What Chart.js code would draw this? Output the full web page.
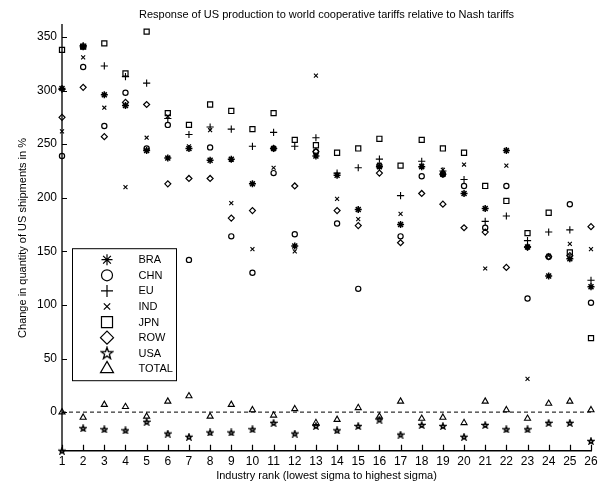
<!DOCTYPE html>
<html lang="en">
<head>
    <meta charset="UTF-8">
    <title>Response of US production to world cooperative tariffs</title>
    <script src="https://cdn.jsdelivr.net/npm/chart.js"></script>
    <style>
        body { margin: 0; background: #fff; }
        canvas { display: block; }
    </style>
</head>
<body>
    <canvas id="chart" width="604" height="487"></canvas>
    <script>
        // industry rank 1..26 and tick values
        const ranks = [1, 2, 3, 4, 5, 6, 7, 8, 9, 10, 11, 12, 13, 14, 15, 16, 17, 18, 19, 20, 21, 22, 23, 24, 25, 26];
        const yTicks = [0, 50, 100, 150, 200, 250, 300, 350];

        const BRA = [302, 341, 296, 286, 244, 237, 246, 235, 236, 213, 246, 155, 239, 221, 189, 229, 175, 229, 222, 204, 190, 244, 154, 127, 143, 117];
        const CHN = [239, 322, 267, 298, 246, 268, 142, 247, 164, 130, 223, 166, 243, 176, 115, 230, 164, 220, 222, 211, 172, 211, 106, 145, 194, 102];
        const EU = [301, 342, 323, 313, 307, 274, 259, 266, 264, 248, 261, 248, 256, 223, 228, 236, 202, 234, 225, 217, 178, 183, 160, 168, 170, 123];
        const IND = [262, 331, 284, 210, 256, 276, 248, 263, 195, 152, 228, 150, 314, 199, 180, 231, 185, 230, 226, 231, 134, 230, 31, 146, 157, 152];
        const JPN = [338, 341, 344, 316, 355, 279, 268, 287, 281, 264, 279, 254, 249, 242, 246, 255, 230, 254, 246, 242, 211, 197, 167, 186, 149, 69];
        const ROW = [275, 303, 257, 289, 287, 213, 218, 218, 181, 188, 246, 211, 243, 188, 174, 223, 158, 204, 194, 172, 168, 135, 154, 145, 146, 173];
        const USA = [-36, -15, -16, -17, -9, -20, -23, -19, -19, -16, -10, -20, -13, -17, -13, -7, -21, -12, -13, -23, -12, -16, -16, -10, -10, -27];
        const TOTAL = [0, -5, 7, 5, -4, 10, 15, -4, 7, 2, -3, 3, -10, -7, 4, -4, 10, -6, -5, -10, 10, 2, -6, 8, 10, 2];

        // pentagram marker (outline), like matlab 'p'
        function pentagram(size, lw) {
            const c = document.createElement('canvas');
            c.width = size; c.height = size;
            const g = c.getContext('2d');
            const cx = size / 2, cy = size / 2 + 0.3;
            const R = size / 2 - lw / 2 - 0.2, r = R * 0.4;
            g.beginPath();
            for (let i = 0; i < 10; i++) {
                const a = -Math.PI / 2 + i * Math.PI / 5;
                const rr = i % 2 ? r : R;
                const px = cx + rr * Math.cos(a), py = cy + rr * Math.sin(a);
                if (i === 0) g.moveTo(px, py); else g.lineTo(px, py);
            }
            g.closePath();
            g.lineWidth = lw;
            g.strokeStyle = '#000';
            g.stroke();
            return c;
        }
        const starSmall = pentagram(8, 1.4);
        const starBig = pentagram(14, 1.3);

        const series = [
            { label: 'BRA', data: BRA, style: 'star', r: 3.5, w: 1.5, lr: 5.5 },
            { label: 'CHN', data: CHN, style: 'circle', r: 2.6, w: 1.2, lr: 5.5 },
            { label: 'EU', data: EU, style: 'cross', r: 3.6, w: 1.1, lr: 6 },
            { label: 'IND', data: IND, style: 'crossRot', r: 2.8, w: 1.1, lr: 4.5 },
            { label: 'JPN', data: JPN, style: 'rect', r: 3.6, w: 1.2, lr: 7.8 },
            { label: 'ROW', data: ROW, style: 'rectRot', r: 3, w: 1.2, lr: 6.5 },
            { label: 'USA', data: USA, style: starSmall, r: 4, w: 1, lr: 6, legendImg: starBig },
            { label: 'TOTAL', data: TOTAL, style: 'triangle', r: 3.5, w: 1.1, lr: 7.5 }
        ];

        const datasets = series.map(s => ({
            label: s.label,
            data: ranks.map((x, i) => ({ x: x, y: s.data[i] })),
            pointStyle: s.style,
            pointRadius: s.r,
            pointBorderWidth: s.w,
            pointBorderColor: '#000',
            pointBackgroundColor: 'rgba(0,0,0,0)',
            showLine: false,
            clip: false
        }));

        // dashed zero line
        datasets.push({
            label: 'zero',
            data: [{ x: ranks[0], y: 0 }, { x: ranks[ranks.length - 1], y: 0 }],
            showLine: true,
            borderColor: '#000',
            borderWidth: 1,
            borderDash: [4, 3],
            pointRadius: 0,
            clip: false
        });

        // ticks point inward (matlab style)
        const innerTicks = {
            id: 'innerTicks',
            afterDraw(chart) {
                const { ctx, chartArea, scales } = chart;
                ctx.save();
                ctx.strokeStyle = '#000';
                ctx.lineWidth = 1.2;
                ctx.beginPath();
                scales.x.ticks.forEach(t => {
                    const px = Math.round(scales.x.getPixelForValue(t.value)) + 0.5;
                    ctx.moveTo(px, chartArea.bottom);
                    ctx.lineTo(px, chartArea.bottom - 6);
                });
                scales.y.ticks.forEach(t => {
                    const py = Math.round(scales.y.getPixelForValue(t.value)) + 0.5;
                    ctx.moveTo(chartArea.left, py);
                    ctx.lineTo(chartArea.left + 5, py);
                });
                ctx.stroke();
                ctx.restore();
            }
        };

        // legend box drawn inside the plot
        const boxLegend = {
            id: 'boxLegend',
            afterDraw(chart) {
                const { ctx, chartArea } = chart;
                const left = chartArea.left + 10.5, top = chartArea.top + 223.5;
                const w = 104, h = 132, step = 15.6;
                ctx.save();
                ctx.fillStyle = '#fff';
                ctx.fillRect(left, top, w, h);
                ctx.strokeStyle = '#000';
                ctx.lineWidth = 1;
                ctx.strokeRect(left, top, w, h);
                ctx.font = '11px "Liberation Sans", Arial, sans-serif';
                ctx.textBaseline = 'middle';
                series.forEach((s, i) => {
                    const y = top + 11 + i * step;
                    const mx = left + 34.5;
                    ctx.strokeStyle = '#000';
                    ctx.fillStyle = 'rgba(0,0,0,0)';
                    ctx.lineWidth = 1.2;
                    Chart.helpers.drawPoint(ctx, {
                        pointStyle: s.legendImg || s.style,
                        radius: s.lr,
                        rotation: 0,
                        borderWidth: 1.2
                    }, mx, y);
                    ctx.fillStyle = '#000';
                    ctx.fillText(s.label, left + 66, y + 0.5);
                });
                ctx.restore();
            }
        };

        new Chart(document.getElementById('chart'), {
            type: 'scatter',
            data: { datasets: datasets },
            plugins: [innerTicks, boxLegend],
            options: {
                responsive: false,
                animation: false,
                layout: { padding: { left: 9, right: 13, top: 0, bottom: 0 } },
                plugins: {
                    legend: { display: false },
                    tooltip: { enabled: false },
                    title: {
                        display: true,
                        fullSize: false,
                        text: 'Response of US production to world cooperative tariffs relative to Nash tariffs',
                        color: '#000',
                        font: { family: '"Liberation Sans", Arial, sans-serif', size: 11, weight: 'normal' },
                        padding: { top: 8, bottom: 4 }
                    }
                },
                scales: {
                    x: {
                        type: 'linear',
                        min: 1,
                        max: 26,
                        afterBuildTicks: scale => { scale.ticks = ranks.map(v => ({ value: v })); },
                        afterFit: scale => { scale.height = 36.3; },
                        grid: { display: false, drawTicks: false },
                        border: { display: true, color: '#000', width: 1.5 },
                        ticks: {
                            color: '#000',
                            padding: 4,
                            maxRotation: 0,
                            autoSkip: false,
                            font: { family: '"Liberation Sans", Arial, sans-serif', size: 12 }
                        },
                        title: {
                            display: true,
                            text: 'Industry rank (lowest sigma to highest sigma)',
                            color: '#000',
                            font: { family: '"Liberation Sans", Arial, sans-serif', size: 11 },
                            padding: { top: 0, bottom: 4 }
                        }
                    },
                    y: {
                        type: 'linear',
                        min: -36,
                        max: 361,
                        afterBuildTicks: scale => { scale.ticks = yTicks.map(v => ({ value: v })); },
                        afterFit: scale => { scale.width = 53; },
                        grid: { display: false, drawTicks: false },
                        border: { display: true, color: '#555', width: 2 },
                        ticks: {
                            color: '#000',
                            padding: 5,
                            font: { family: '"Liberation Sans", Arial, sans-serif', size: 12 }
                        },
                        title: {
                            display: true,
                            text: 'Change in quantity of US shipments in %',
                            color: '#000',
                            font: { family: '"Liberation Sans", Arial, sans-serif', size: 11 },
                            padding: { top: 7, bottom: 0 }
                        }
                    }
                }
            }
        });
    </script>
</body>
</html>
